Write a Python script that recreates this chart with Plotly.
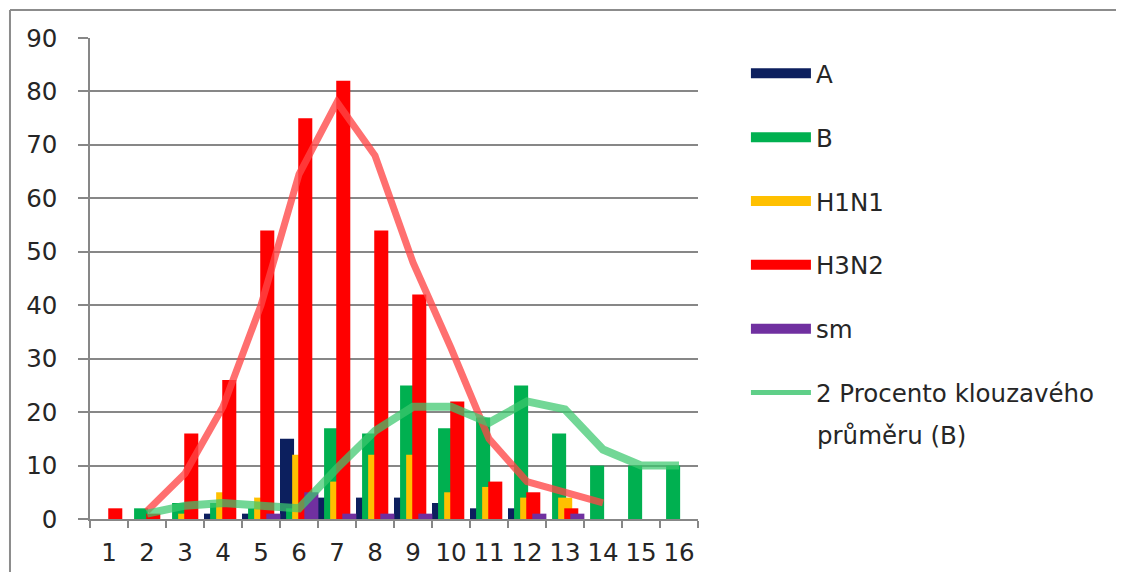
import plotly.graph_objects as go

weeks = list(range(1, 17))
week_labels = [str(w) for w in weeks]

A = [0, 0, 0, 1, 1, 15, 4, 4, 4, 3, 2, 2, 0, 0, 0, 0]
B = [0, 2, 3, 3, 2, 2, 17, 16, 25, 17, 19, 25, 16, 10, 10, 10]
H1N1 = [0, 0, 1, 5, 4, 12, 7, 12, 12, 5, 6, 4, 4, 0, 0, 0]
H3N2 = [2, 1, 16, 26, 54, 75, 82, 54, 42, 22, 7, 5, 2, 0, 0, 0]
SM = [0, 0, 0, 0, 1, 5, 1, 1, 1, 0, 0, 1, 1, 0, 0, 0]

# trendlines (2-period moving averages)
ma_b_x = list(range(2, 17))
ma_b = [1, 2.5, 3, 2.5, 2, 9.5, 16.5, 21, 21, 18, 22, 20.5, 13, 10, 10]
ma_h3_x = list(range(2, 15))
ma_h3 = [1.5, 8.5, 21, 40, 64.5, 78, 68, 48, 32, 15, 7, 5, 3]

FONT = "DejaVu Sans"
FS = 24.5
TXT = "#262626"
GRID = "#878787"

series = [
    ("A", A, "#0c1f5e", -0.5),
    ("B", B, "#00b050", -0.34),
    ("H1N1", H1N1, "#ffc000", -0.18),
    ("H3N2", H3N2, "#ff0000", -0.02),
    ("sm", SM, "#7030a0", 0.14),
]

fig = go.Figure()
for name, vals, col, off in series:
    fig.add_trace(go.Bar(x=weeks, y=vals, name=name, marker=dict(color=col, line=dict(width=0)),
                         width=0.37, offset=off, showlegend=False))

fig.add_trace(go.Scatter(x=ma_h3_x, y=ma_h3, mode="lines", showlegend=False,
                         line=dict(color="rgba(255,70,70,0.78)", width=7)))
fig.add_trace(go.Scatter(x=ma_b_x, y=ma_b, mode="lines", showlegend=False,
                         line=dict(color="rgba(60,200,110,0.72)", width=8)))

# legend entries
for i, (name, vals, col, off) in enumerate(series):
    fig.add_trace(go.Scatter(x=[None], y=[None], mode="lines", name=name, legendgroup=name,
                             line=dict(color=col, width=12)))
fig.add_trace(go.Scatter(x=[None], y=[None], mode="lines", name="2 Procento klouzavého",
                         legendgroup="ma", line=dict(color="#5fcf88", width=5)))
fig.add_annotation(text="průměru (B)", xref="paper", yref="paper", x=1.193, y=0.1746,
                   xanchor="left", yanchor="middle", showarrow=False,
                   font=dict(family=FONT, size=FS, color=TXT))

# outer frame (top and left edges visible)
fig.add_shape(type="line", xref="paper", yref="paper", x0=-0.1316, x1=1.8, y0=1.058, y1=1.058,
              line=dict(color="#8c8c8c", width=2))
fig.add_shape(type="line", xref="paper", yref="paper", x0=-0.1316, x1=-0.1316, y0=-0.5, y1=1.058,
              line=dict(color="#8c8c8c", width=2))

fig.update_layout(
    width=1108, height=564,
    margin=dict(l=82, r=418, t=30, b=53, autoexpand=False),
    paper_bgcolor="white", plot_bgcolor="white",
    barmode="overlay",
    font=dict(family=FONT, size=FS, color=TXT),
    legend=dict(xref="container", yref="container", x=0.666, y=0.924, xanchor="left", yanchor="top",
                tracegroupgap=29, itemwidth=60, maxheight=1.0,
                font=dict(family=FONT, size=FS, color=TXT),
                bgcolor="rgba(0,0,0,0)"),
    xaxis=dict(range=[0.5, 16.5], tickvals=weeks, ticktext=week_labels, ticks="",
               showgrid=False, showline=True, linecolor=GRID, linewidth=1.5, zeroline=False,
               ticklabelstandoff=11, automargin=False,
               minor=dict(tickvals=[w + 0.5 for w in [0] + weeks], ticks="outside", ticklen=7,
                          tickcolor=GRID, tickwidth=1.5, showgrid=False)),
    yaxis=dict(range=[0, 90], dtick=10, tick0=0, ticks="outside", ticklen=10, tickcolor=GRID,
               tickwidth=1.5, showgrid=True, gridcolor=GRID, gridwidth=1.5, showline=True,
               linecolor=GRID, linewidth=1.5, zeroline=False, ticklabelstandoff=16, automargin=False),
)

fig.write_html("out.html")
